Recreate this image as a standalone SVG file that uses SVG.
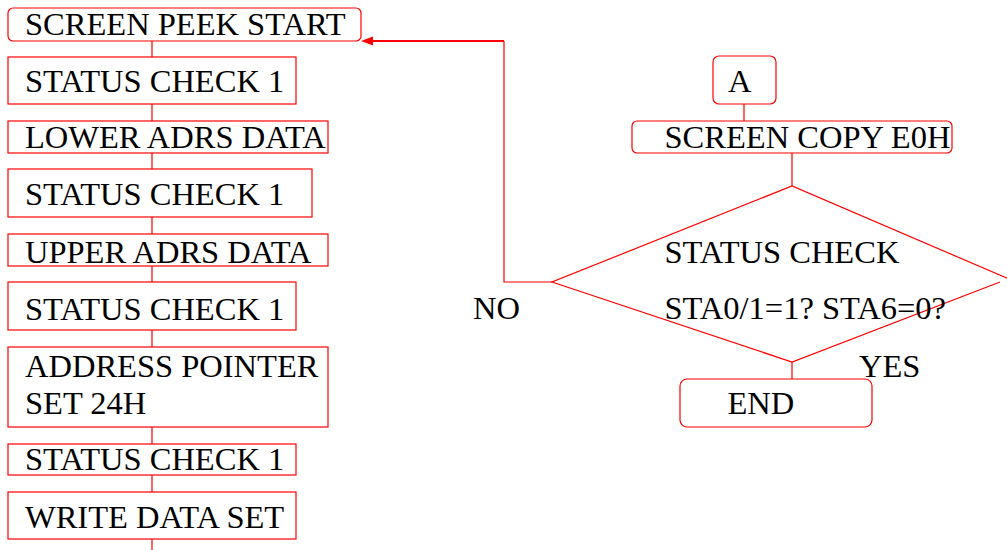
<svg xmlns="http://www.w3.org/2000/svg" width="1007" height="550" viewBox="0 0 1007 550">
<style>
.b{fill:#fff;stroke:#ff0000;stroke-width:1.2}
.t{font-family:"Liberation Serif","Times New Roman",serif;font-size:32.5px;fill:#000}
.c{fill:none;stroke:#ff0000;stroke-width:1.2}
</style>
<rect width="1007" height="550" fill="#fff"/>
<g id="connectors">
<path class="c" d="M152,41V57M152,104V121M152,153V169M152,217V234M152,266V282M152,330V347M152,427V444M152,475V492M152,539V550"/>
<path class="c" d="M744,104V121M792,153V186M792,362V379"/>
<path class="c" d="M552,282H504V41"/>
<path fill="none" stroke="#ff0000" stroke-width="2" d="M504,41H370"/>
<polygon points="361,41 373,36.5 373,45.5" fill="#ff0000"/>
</g>
<g id="n1"><rect class="b" x="8" y="8" width="353" height="33" rx="5"/><text class="t" x="25" y="35">SCREEN PEEK START</text></g>
<g id="n2"><rect class="b" x="8" y="57" width="288" height="47"/><text class="t" x="25" y="92">STATUS CHECK 1</text></g>
<g id="n3"><rect class="b" x="8" y="121" width="320" height="32"/><text class="t" x="25" y="148">LOWER ADRS DATA</text></g>
<g id="n4"><rect class="b" x="8" y="169" width="304" height="48"/><text class="t" x="25" y="205">STATUS CHECK 1</text></g>
<g id="n5"><rect class="b" x="8" y="234" width="320" height="32"/><text class="t" x="25" y="263">UPPER ADRS DATA</text></g>
<g id="n6"><rect class="b" x="8" y="282" width="288" height="48"/><text class="t" x="25" y="320">STATUS CHECK 1</text></g>
<g id="n7"><rect class="b" x="8" y="347" width="320" height="80"/><text class="t" x="25" y="377">ADDRESS POINTER</text><text class="t" x="25" y="414">SET 24H</text></g>
<g id="n8"><rect class="b" x="8" y="444" width="288" height="31"/><text class="t" x="25" y="470">STATUS CHECK 1</text></g>
<g id="n9"><rect class="b" x="8" y="492" width="288" height="47"/><text class="t" x="25" y="528">WRITE DATA SET</text></g>
<g id="nA"><rect class="b" x="713" y="56" width="63" height="48" rx="6"/><text class="t" x="728" y="92">A</text></g>
<g id="nCopy"><rect class="b" x="632" y="121" width="320" height="32" rx="5"/><text class="t" x="664.5" y="148">SCREEN COPY E0H</text></g>
<g id="nDecision"><path class="c" d="M1000,282L792,362L552,282L792,186L1016,282"/><text class="t" x="664.5" y="263">STATUS CHECK</text><text class="t" x="664.5" y="319">STA0/1=1? STA6=0?</text></g>
<g id="nEnd"><rect class="b" x="680" y="379" width="192" height="48" rx="7"/><text class="t" x="727.5" y="414">END</text></g>
<g id="labels"><text class="t" x="473" y="319">NO</text><text class="t" x="859" y="377">YES</text></g>
</svg>
